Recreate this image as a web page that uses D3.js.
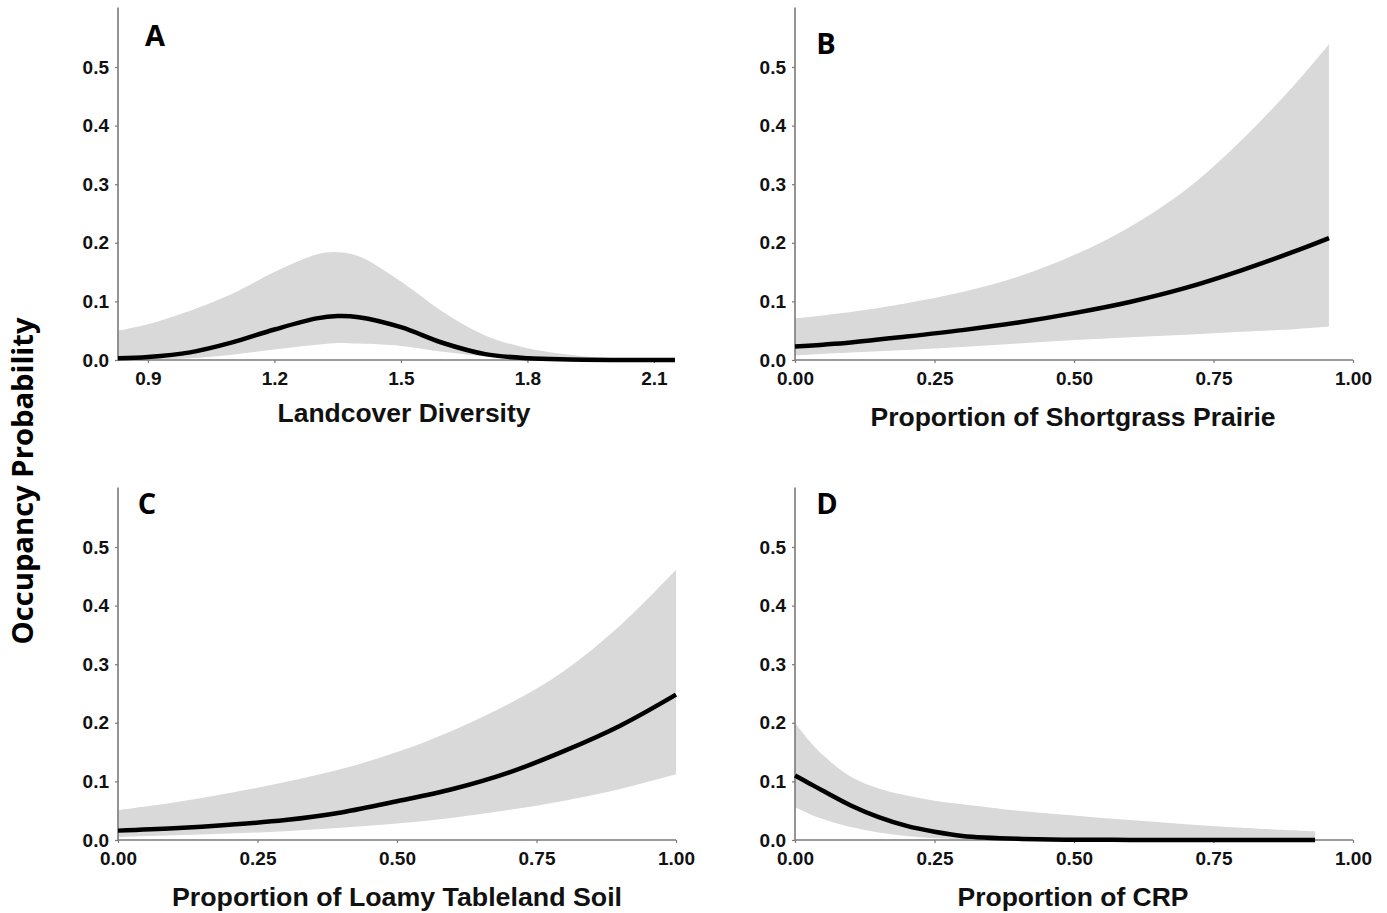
<!DOCTYPE html>
<html>
<head>
<meta charset="utf-8">
<script src="https://cdn.jsdelivr.net/npm/d3@7"></script>
<style>
  html, body { margin: 0; padding: 0; background: #fff; }
  svg { display: block; }
</style>
</head>
<body>
<svg id="fig" width="1387" height="913"></svg>
<script>
// Panel A: landcover diversity
const divX    = [0.829, 0.9, 1.0, 1.1, 1.2, 1.3, 1.35, 1.4, 1.5, 1.6, 1.7, 1.8, 1.9, 2.0, 2.15];
const divMean = [0.003, 0.005, 0.013, 0.030, 0.052, 0.071, 0.075, 0.073, 0.056, 0.029, 0.010, 0.003, 0.001, 0.0002, 0];
const divLo   = [0.000, 0.001, 0.003, 0.009, 0.018, 0.026, 0.029, 0.028, 0.024, 0.014, 0.006, 0.002, 0.0005, 0, 0];
const divHi   = [0.050, 0.061, 0.084, 0.113, 0.150, 0.180, 0.184, 0.177, 0.134, 0.082, 0.042, 0.020, 0.009, 0.003, 0.0005];

// Panel B: shortgrass prairie
const sgpX    = [0, 0.1, 0.2, 0.3, 0.4, 0.5, 0.6, 0.7, 0.8, 0.9, 0.957];
const sgpMean = [0.023, 0.030, 0.040, 0.051, 0.064, 0.080, 0.099, 0.123, 0.153, 0.187, 0.208];
const sgpLo   = [0.008, 0.013, 0.017, 0.022, 0.028, 0.034, 0.039, 0.043, 0.048, 0.053, 0.057];
const sgpHi   = [0.071, 0.082, 0.097, 0.116, 0.142, 0.179, 0.227, 0.290, 0.375, 0.475, 0.539];

// Panel C: loamy tableland soil
const soilX    = [0, 0.1, 0.2, 0.3, 0.4, 0.5, 0.6, 0.7, 0.8, 0.9, 1.0];
const soilMean = [0.016, 0.020, 0.026, 0.034, 0.047, 0.066, 0.087, 0.115, 0.152, 0.195, 0.248];
const soilLo   = [0.005, 0.008, 0.011, 0.015, 0.021, 0.028, 0.038, 0.051, 0.067, 0.087, 0.112];
const soilHi   = [0.051, 0.064, 0.080, 0.099, 0.121, 0.150, 0.187, 0.232, 0.289, 0.366, 0.461];

// Panel D: CRP
const crpX    = [0, 0.025, 0.05, 0.1, 0.15, 0.2, 0.25, 0.3, 0.4, 0.5, 0.6, 0.7, 0.8, 0.932];
const crpMean = [0.110, 0.097, 0.084, 0.059, 0.039, 0.024, 0.014, 0.007, 0.002, 0.0005, 0.0002, 0, 0, 0];
const crpLo   = [0.056, 0.045, 0.036, 0.022, 0.013, 0.007, 0.003, 0.0015, 0.0003, 0, 0, 0, 0, 0];
const crpHi   = [0.200, 0.170, 0.145, 0.108, 0.088, 0.076, 0.067, 0.061, 0.050, 0.042, 0.034, 0.027, 0.021, 0.015];

// Tick values and labels
const yTicks = [0, 0.1, 0.2, 0.3, 0.4, 0.5];
const yTickLabels = ["0.0", "0.1", "0.2", "0.3", "0.4", "0.5"];
const divTicks = [0.9, 1.2, 1.5, 1.8, 2.1];
const divTickLabels = ["0.9", "1.2", "1.5", "1.8", "2.1"];
const propTicks = [0, 0.25, 0.5, 0.75, 1];
const propTickLabels = ["0.00", "0.25", "0.50", "0.75", "1.00"];

const panelLetters = ["A", "B", "C", "D"];
const axisTitles = ["Landcover Diversity", "Proportion of Shortgrass Prairie",
                    "Proportion of Loamy Tableland Soil", "Proportion of CRP"];
const yTitle = "Occupancy Probability";

const svg = d3.select("#fig");

const panels = [
  { x: divX, mean: divMean, lo: divLo, hi: divHi, dom: [0.829, 2.15], ticks: divTicks, labels: divTickLabels,
    left: 118, right: 675, bottom: 360, letterX: 155, letterY: 46, titleX: 404, titleY: 422, titleW: 253 },
  { x: sgpX, mean: sgpMean, lo: sgpLo, hi: sgpHi, dom: [0, 1], ticks: propTicks, labels: propTickLabels,
    left: 795, right: 1353, bottom: 360, letterX: 826, letterY: 54, titleX: 1073, titleY: 426, titleW: 405 },
  { x: soilX, mean: soilMean, lo: soilLo, hi: soilHi, dom: [0, 1], ticks: propTicks, labels: propTickLabels,
    left: 118, right: 676, bottom: 840, letterX: 147, letterY: 514, titleX: 397, titleY: 906, titleW: 450 },
  { x: crpX, mean: crpMean, lo: crpLo, hi: crpHi, dom: [0, 1], ticks: propTicks, labels: propTickLabels,
    left: 795, right: 1353, bottom: 840, letterX: 827, letterY: 514, titleX: 1073, titleY: 906, titleW: 231 }
];

const tickFont = "'Liberation Sans', Arial, sans-serif";
const smooth = d3.curveCatmullRom.alpha(0.5);

panels.forEach((p, i) => {
  const xs = d3.scaleLinear().domain(p.dom).range([p.left, p.right]);
  const ys = d3.scaleLinear().domain([0, 0.6]).range([p.bottom, p.bottom - 351.6]);
  const g = svg.append("g");
  const pts = p.x.map((v, k) => ({ x: v, m: p.mean[k], lo: p.lo[k], hi: p.hi[k] }));

  // confidence band
  g.append("path")
    .datum(pts)
    .attr("fill", "#d9d9d9")
    .attr("d", d3.area().curve(smooth)
      .x(d => xs(d.x)).y0(d => ys(d.lo)).y1(d => ys(d.hi)));

  // y axis
  const yAxis = g.append("g")
    .attr("transform", `translate(${p.left},0)`)
    .call(d3.axisLeft(ys).tickValues(yTicks).tickSize(3).tickPadding(6)
      .tickFormat((d, k) => yTickLabels[k]));
  yAxis.select(".domain").attr("stroke", "#7a7a7a").attr("stroke-width", 1.6)
    .attr("d", `M0,${ys(0)}V${ys(0.6) - 1}`);

  // x axis
  const xAxis = g.append("g")
    .attr("transform", `translate(0,${p.bottom})`)
    .call(d3.axisBottom(xs).tickValues(p.ticks).tickSize(3).tickPadding(9)
      .tickFormat((d, k) => p.labels[k]));
  xAxis.select(".domain").attr("stroke", "#7a7a7a").attr("stroke-width", 1.6)
    .attr("d", `M${p.left},0H${p.right}`);

  [yAxis, xAxis].forEach(ax => {
    ax.selectAll(".tick line").attr("stroke", "#7a7a7a").attr("stroke-width", 1.2);
    ax.selectAll(".tick text")
      .attr("fill", "#111")
      .style("font-family", tickFont)
      .style("font-weight", "bold")
      .style("font-size", "19px");
  });

  // fitted mean
  g.append("path")
    .datum(pts)
    .attr("fill", "none")
    .attr("stroke", "#000")
    .attr("stroke-width", 4.5)
    .attr("d", d3.line().curve(smooth).x(d => xs(d.x)).y(d => ys(Math.max(0, d.m))));

  // panel letter
  g.append("text")
    .attr("x", p.letterX).attr("y", p.letterY)
    .attr("text-anchor", "middle")
    .style("font-family", "'Open Sans', 'Noto Sans', sans-serif")
    .style("font-weight", "bold")
    .style("font-size", "29px")
    .attr("fill", "#000")
    .text(panelLetters[i]);

  // x-axis title
  g.append("text")
    .attr("x", p.titleX).attr("y", p.titleY)
    .attr("text-anchor", "middle")
    .attr("textLength", p.titleW)
    .attr("lengthAdjust", "spacingAndGlyphs")
    .style("font-family", tickFont)
    .style("font-weight", "bold")
    .style("font-size", "26px")
    .attr("fill", "#111")
    .text(axisTitles[i]);
});

// shared y-axis title
svg.append("text")
  .attr("transform", "translate(33,481) rotate(-90)")
  .attr("text-anchor", "middle")
  .attr("textLength", 327)
  .attr("lengthAdjust", "spacingAndGlyphs")
  .style("font-family", "'Open Sans', 'Noto Sans', sans-serif")
  .style("font-weight", "bold")
  .style("font-size", "28px")
  .attr("fill", "#000")
  .text(yTitle);
</script>
</body>
</html>
